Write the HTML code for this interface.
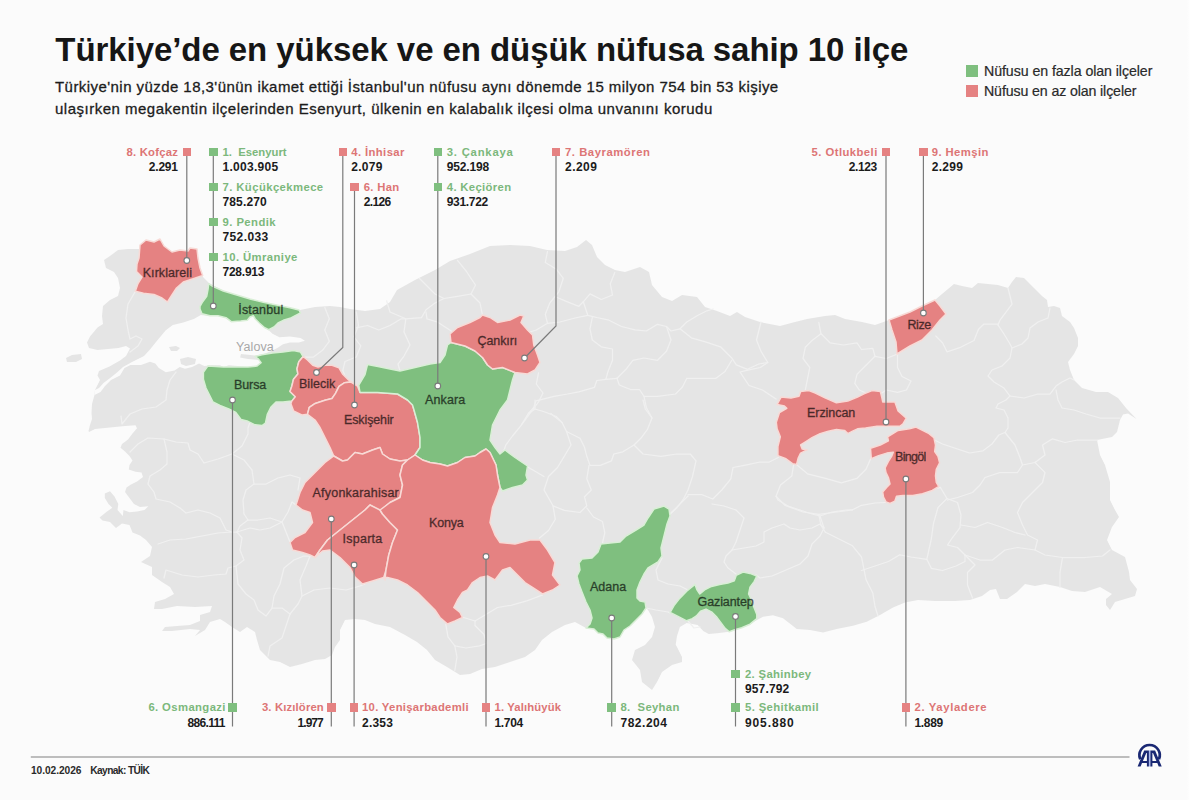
<!DOCTYPE html>
<html lang="tr"><head><meta charset="utf-8"><title>Türkiye'de en yüksek ve en düşük nüfusa sahip 10 ilçe</title>
<style>
html,body{margin:0;padding:0}
body{width:1200px;height:800px;overflow:hidden;background:#fff;font-family:"Liberation Sans",sans-serif;position:relative}
#bg{position:absolute;left:0;top:0;width:1191px;height:800px;background:linear-gradient(90deg,#fbfbfb 0,#fbfbfb 1187px,#fff 1190.5px)}
.t{position:absolute;white-space:nowrap;line-height:1}
.sq{position:absolute;width:8.6px;height:8.6px}
svg{position:absolute;left:0;top:0}
</style></head><body><div id="bg"></div>

<svg width="1200" height="800" viewBox="0 0 1200 800">
<polygon points="104,260 110,256 118,250 128,249 140,249 140,245 146,240 154,242 160,239 164,246 172,252 180,250 188,251 190,248 197,249 198,258 200,270 203,277 209,283 220,289 234,295 250,299 270,304 286,308 300,310 315,307 330,306 340,307 350,309 365,311 380,309 390,302 397,290 415,280 435,270 450,261 470,254 490,246 510,245 530,246 547,250 565,251 577,247 586,240 592,245 597,257 605,265 615,270 625,272 640,267 649,272 652,285 662,297 672,301 682,295 697,297 705,307 717,311 730,316 737,312 745,317 760,322 780,326 795,322 807,319 825,316 835,315 845,319 862,322 875,325 889,320 910,312 922,306 935,300 942,294 954,284 962,286 972,288 978,283 988,284 998,285 1008,288 1012,282 1016,277 1024,278 1028,282 1034,288 1042,296 1047,300 1048,307 1054,306 1060,308 1062,316 1070,322 1074,328 1078,338 1078,346 1074,354 1068,362 1070,370 1074,380 1082,388 1096,392 1108,392 1118,398 1126,408 1136.5,419 1128,413.5 1123,414.5 1120,420 1117,432 1112,437 1097,440 1100,455 1105,465 1110,482 1110,500 1115,510 1119,517 1112,527 1107,540 1112,550 1125,557 1129,572 1130,580 1137,589 1135,596 1125,599 1115,602 1110,610 1106,605 1106,599 1112,594 1100,587 1085,592 1072,591 1060,587 1045,584 1035,586 1025,584 1017,592 1007,599 1000,599 996,589 990,590 982,596 970,600 955,601 935,601 918,600 905,602.5 893,607.5 880,615 866.7,621.7 853,625.8 836.7,629 823,632.5 810,630 796.7,629 791.7,625 783,618.3 773,615.3 763,616.7 757,620 750,624.2 741.7,627.7 734.8,629.7 729.3,631.8 717,633.2 708.7,633.9 703.2,631.1 697.7,624.9 686.7,622.9 679.9,627 677,636 675.7,644.8 677,647 682,657 682,662 672,665 662,672 657,682 652,690 642,682 640,670 632,660 635,650 645,645 652,637 655,627 652,617 648,610 646,608 642,614 636,620 630,626 624,630 620,637 614,639 607,638 603,634 598,633 594,629 586,628 575,622 565,625 552,632 542,640 535,650 525,657 510,662 495,667 482,669 470,674 460,675 447,667 435,660 427,650 417,642 405,635 390,627 375,624 365,620 355,619 345,620 340,630 340,640 335,647 332,655 325,659 315,660 302,664 290,667 280,662 270,660 260,650 257,640 255,632 247,627 240,632 232,627 225,622 220,619 210,622 205,630 195,636 200,630 190,629 172,631 162,631 165,627 177,626 190,625 200,621 200,615 210,612 212,606 195,607 177,606 162,609 154,609 155,602 165,599 174,594 170,587 162,582 152,575 152,567 141,562 150,556 152,547 146,540 140,535.5 132.5,532.5 129.5,525 122,523.5 116,528 110,522 102.5,520.5 99.5,517.5 107,511.5 112.3,507.8 108.5,504 104.8,498 104.8,493.5 110,491.3 114.5,496.5 118.3,504 117.5,510 122.8,516 123.5,510 129.5,512.3 137,511.5 144.5,510 148.3,506.3 140,507 134,504 129.5,498 125,492 126.5,487.5 131,484.5 137,481.5 143,477 141.5,472.5 135.5,471.8 128.8,469.5 129.5,465 132.5,460.5 129.5,456 125,451.5 120.5,447.8 122,444 128,439.5 132.5,433.5 137,428.3 135.5,425.3 125,426 110,427.5 95,429 89,432 88.5,431 90,425 92,419 91.5,413 92,404 94.5,395 95,390 97,386 100,380 97.5,375.5 99,371 109.5,366.5 120,360.5 126,356 130,348.5 126,346 118.5,348 108,349 97.5,350 89,348 87,342.5 90,336.5 97.5,327.5 103,324 102,316 103,306 110,300 118,296 120,288 118,278 114,272 106,268" fill="#e5e5e5"/>
<polygon points="95,390 99,388 103.5,383 109.5,378.5 117,372.5 123,367 132,362 144,356 150,349.5 157,340.8 165.8,330.3 172.8,325 183.3,322.4 193.8,318.9 200.8,315 209.5,316 218,316 226,318 231.3,322 240.7,321.3 247.3,320.6 250,317.3 253.3,316 255.3,319.3 259.3,323.3 264.7,328 268.7,330.2 272.5,333.8 279.5,337.3 290,336.4 300.5,338.1 304.9,340.8 298.8,342.5 290,342.5 283,344.3 277.8,347.8 272.5,350.4 263.8,353.9 255,355.6 241,353.9 240.1,357.4 248,359.1 258.5,360 261.1,362.6 256.8,366.1 248,367 237.5,366.1 228.8,365.3 223.5,367 220,365.3 211.3,365.3 204.3,366.1 199,363.5 192,367 185,368.8 179.8,367 174.5,370.5 165.8,372.3 158.8,367.9 155.3,363.5 150,361.8 141,365 130.5,365 124.5,368 120,375.5 111,380 105,386 100.5,392 94.5,395" fill="#fbfbfb"/>
<polygon points="66,358 72,355 81,354 82,359 76,362 67,362" fill="#e5e5e5"/>
<polygon points="169,347 176,346 180,348 177,351 171,351" fill="#e5e5e5"/>
<polygon points="180,359 188,357 196,359 195,364 186,366 181,364" fill="#e5e5e5"/>
<g fill="none" stroke="#f0f0f0" stroke-width="1.25" stroke-linejoin="round" stroke-linecap="round">
<polyline points="135,292 128,304 126,318 128,330 130,339 136,336 142,339 138,346 130,352"/>
<polyline points="121,416 122,424 130,414 142,409 156,407 166,400 167,390 170,380 176,372"/>
<polyline points="130,452 138,444 148,438 164,439 176,442 188,443 190,450 198,454 204,463 218,459 232,454 242,446 248,434 248,428 250,422"/>
<polyline points="164,439 167,452 167,464 160,470 150,476 148,484 154,492 156,499 170,502 180,508 186,513 198,510 210,513 220,518 226,530 232,532"/>
<polyline points="232,454 244,460 252,470 254,484 246,490 243,500 244,514 248,520 240,526 237,532"/>
<polyline points="254,484 266,484 278,478 290,475 300,478 298,490"/>
<polyline points="248,520 258,520 270,518 282,522 288,512 292,502 296,505"/>
<polyline points="158,544 170,540 186,539 202,536 218,533 232,532 237,532 242,538 240,550 244,560 236,566 228,568 226,574 214,575 198,577 182,575 166,570 164,578"/>
<polyline points="237,532 250,528 260,530 270,528 282,522 290,542"/>
<polyline points="236,566 238,584 246,594 254,600 258,610 266,616 272,608 274,596 280,584 284,568 294,560 304,556 310,556"/>
<polyline points="272,608 282,608 290,614 286,626 282,638 270,646 268,656"/>
<polyline points="290,614 298,604 302,596 314,590 330,588 346,590 360,586 365,584"/>
<polyline points="310,556 306,566 300,580 302,596"/>
<polyline points="445.8,624.4 448,636.8 454.8,645.8 457,657 454.8,670.5"/>
<polyline points="454.8,645.8 466,648 479.5,645.8 486.3,643.5 484,634.5 475,625.5 475,621 486.3,614.3 497.5,607.5 511,605.3 526.8,600.8 542.5,595"/>
<polyline points="462,617 475,621"/>
<polyline points="324.8,307.5 329.3,318.8 324.8,330 329.3,341.3 322.5,350.3 313.5,357 305,357"/>
<polyline points="356.3,312 358.5,325.5 354,336.8 360.8,345.8 356.3,357 345,361.5 342.8,370.5 345,376"/>
<polyline points="356.3,327.8 367.5,325.5 378.8,330 390,325.5 401.3,318.8 405.8,318.8"/>
<polyline points="386.6,300.8 390,312 405.8,318.8 421.5,317.6 426,309.8 435,303 444,298.5 457.5,296.3 471,294 475.5,285 471,278.3 466.5,271.5 457.5,260.3"/>
<polyline points="419.3,278.3 428.3,287.3 435,294 444,298.5"/>
<polyline points="426,312 427,318.8 437.3,322 446.3,327.8 453,332.3"/>
<polyline points="405.8,318.8 404,332 410,345 404,356 398,364 400,371"/>
<polyline points="471,294 480,303 482.3,314.3"/>
<polyline points="547.5,251.3 545.3,262.5 556.5,269.3 563.3,278.3 558.8,291.8 549.8,303 545.3,314.3 547.5,323.3 536.3,330 530,332"/>
<polyline points="538.5,372.8 536.3,384 543,393 538.5,402 531.8,411 525,420 521.5,424.8"/>
<polyline points="614.8,272.5 610.3,283.8 612.5,295 601.3,299.5 590,293.9 583.3,301.8 578.8,306.3 567.5,301.8 556,297"/>
<polyline points="583.3,301.8 587.8,315.3 596.8,317.5 608,319.8 621.5,326.5 635,329.9 646.3,331 657.5,324.3 666.5,326.5 671,331 680,328.8 686.8,322 698,315.3 707,310.8 713,309"/>
<polyline points="592.3,317.5 590,328.8 592.3,340 601.3,346.8 612.5,349 612.5,360.3 608,371.5 605.8,379.4"/>
<polyline points="547.5,323.3 560,322 575,318 587.8,315.3"/>
<polyline points="666.5,326.5 671,340 666.5,351.3 657.5,360.3 644,358 632.8,360.3 626,369.3 617,378.3 619.3,385 630.5,389.5 639.5,389.5 644,396.3"/>
<polyline points="617,378.3 605.8,379.4 596.8,380.5 594.5,387.3 578.8,391.8 567.5,394 554,396.3 536,400.8 533.8,407.5 528.3,413.5"/>
<polyline points="680,328.8 691.3,337.8 707,342.3 720.5,346.8 731.8,358 736.3,364.8 747.5,369.3 758.8,364 767.8,362.5"/>
<polyline points="731.8,360.3 725,371.5 716,378.3 702.5,378.3 686.8,378.3 682.3,387.3 675.5,394 657.5,396.3 644,396.3 646.3,407.5 652,418"/>
<polyline points="761,322 756.5,340 761,351.3 767.8,362.5 760.3,367.5 749,369.8 740,372 749,385.5 762.5,390 776,399"/>
<polyline points="535,409 545,412 556.3,416.5 562,422.5"/>
<polyline points="535,400 535,409 528.3,413.5 521.5,424.8 512.5,436 505.8,445 503.5,451.8"/>
<polyline points="550.8,413.5 562,422.5 566.5,431.5 580,438.3 584.5,447.3 586.8,456.3 590,465.3"/>
<polyline points="643,400 645.3,409 652,418 647.5,429.3 640.8,438.3 634,445 622.8,451.8 613.8,454 611.5,460.8 600.3,465.3 590,465.3"/>
<polyline points="566.5,431.5 571,445 564.3,456.3 557.5,467.5 548.5,476.5 544,490 553,505.8 564.3,510.3 580,512.5 586.8,505.8 584.5,496.8 591.3,490 586.8,478.8 589,465.3"/>
<polyline points="526,466 544,476.5"/>
<polyline points="553,505.8 555.3,519.3 548.5,530.5 539.5,538"/>
<polyline points="586.8,508 593.5,517 602.5,521.5 604.8,532.8 602.5,543"/>
<polyline points="634,445 643,454 661,456.3 676.8,454 690.3,454 696,460.8 692.5,476.5 688,490 683.5,499 676.8,508 670,514"/>
<polyline points="688,494.5 701.5,494.5 712.8,499 721.8,490 730.8,478.8 733,467.5 744.3,465.3 760,462 769.3,462 778.3,457.5"/>
<polyline points="712,504 724,506 736,510 744,518 740,530 736,542 732,550 726,556 724,562 728,568 736,574"/>
<polyline points="670,514 676,508 684,500 688,496"/>
<polyline points="662,558 656,570 658,580 668,584 680,586 688,590"/>
<polyline points="732,550 744,548 756,546 764,542 764,532 772,528 784,524 790,528 800,530 812,528 820,524 824,528 820,536 812,544 808,556 800,564 786,570 772,576 760,578 756,575"/>
<polyline points="776,496.3 778,500 788,506 800,510 812,514 820,516 824,528"/>
<polyline points="820,516 832,512 846,510 852.5,509.8"/>
<polyline points="646,608 656,610 668,612 670,613"/>
<polyline points="688,621 694,628 700,627"/>
<polyline points="818.8,322.5 821,333.8 812,340.5 805.3,347.3 803,358.5 809.8,367.5 807.5,378.8 805.3,390"/>
<polyline points="821,333.8 830,342.8 843.5,345 857,342.8 861.5,349.5 872.8,348.4 875,356.3 866,365.3 857,374.3 854.8,383.3 859.3,390 866,393"/>
<polyline points="875,356.3 886.3,358.5 897.5,354 897.5,367.5 902,376.5 911,381 906.5,390 897.5,392.3 886.3,390 881.8,393"/>
<polyline points="935.8,336 942.5,342.8 947,351.8 960.5,347.3 974,340.5 978.5,329.3 984,324 998,324"/>
<polyline points="897.5,354 905,349"/>
<polyline points="933.5,439.5 942.5,444 956,448.5 969.5,453 983,450.8 992,444 998.8,435 1005,432.5"/>
<polyline points="794,462.5 807.5,473.8 825.5,478.3 841.3,482.8 857,478.3 866,469.3 871,458"/>
<polyline points="794,462.5 791.8,476 780.5,485 776,496.3 785,505.3 803,512 818.8,514.3 821,525.5 825.5,532.3"/>
<polyline points="818.8,514.3 836.8,512 852.5,509.8 861.5,505.3 875,503 886,502.5"/>
<polyline points="825.5,532.3 839,539 852.5,545.8 861.5,557 863.8,568.3 866,579.5 872.8,593 875,606.5 878,616"/>
<polyline points="861.5,570.5 875,566 888.5,561.5 899.8,554.8 911,557 926.8,559.3 931.3,568.3 942.5,570.5 956,566 965,561.5 965,555"/>
<polyline points="935,489 940.3,487.3 947,498.5 938,507.5 933.5,523.3 931.3,539 926.8,559.3"/>
<polyline points="1008,288 1010,296 1012,304 1006,312 1000,320 998,325"/>
<polyline points="998,325 1004,334 1010,344 1012,348 1022,344 1028,338 1030,328 1038,322 1048,318 1050,308"/>
<polyline points="1012,348 1010,358 1002,366 992,370 988,376 994,382 1004,388 1010,396 1006,400 998,404 996,408 1004,410 1008,418 1008,428 1005,432.5"/>
<polyline points="1010,396 1024,398 1038,394 1050,394 1056,386 1062,382 1070,378 1074,380"/>
<polyline points="1056,390 1058,400 1062,408 1074,410 1086,414 1100,418 1114,418 1120,418"/>
<polyline points="1005,432.5 1015,445 1020,457.5 1022.5,465 1035,462.5 1045,455 1042.5,445 1052.5,438.8 1065,442.5 1077.5,440 1097.5,440"/>
<polyline points="1035,462.5 1045,472.5 1042.5,482.5 1032.5,492.5 1022.5,502.5 1017.5,512.5 1022.5,525 1027.5,535 1037.5,540 1035,550"/>
<polyline points="1022.5,465 1017.5,472.5 1000,472.5 985,477.5 980,485 972.5,492.5 957.5,497.5 947.5,500"/>
<polyline points="947,498.5 957.5,502.5 961,515 960,527.5 952.5,537.5 947.5,545 957.5,547.5 965,555"/>
<polyline points="961,525 975,527.5 987.5,522.5 1002.5,527.5 1015,532.5 1025,535"/>
<polyline points="965,555 980,560 992.5,560 1005,550 1017.5,547.5 1035,550 1045,555 1062.5,557.5 1085,557.5 1102.5,556 1110,550"/>
<polyline points="1062.5,557.5 1060,572.5 1060,587.5"/>
<polyline points="965,555 975,565 967.5,572.5 967.5,585 972.5,598"/>
</g>
<g stroke-width="1.5" stroke-linejoin="round">
<polygon points="140,245 146,240 154,242 160,239 164,246 172,252 180,250 188,251 190,248 197,249 198,258 200,268 202.7,275.5 194,278.5 183.3,282 176.5,288 171.3,296 167.5,302 162,298 154,294.5 143.5,293.3 135.3,291.3 138,283.5 142,277 136.5,271.5 137,264 139,258" fill="#e58282" stroke="#f8dad6"/>
<polygon points="208.7,283.7 212.7,286.3 223.3,291 236.7,295 250,299 263.3,302.3 276.7,305 290,307.7 299,310 300.5,313 290,318.3 283.3,320.3 278,323 274,327 268.7,329.7 264.7,327.7 259.3,323 255.3,319 253.3,315.7 250,317 247.3,320.3 240.7,321 231.3,321.7 226,317.7 218,315.7 210,315.7 202,313.7 200,309 200,306.3 202.7,301.7 206.7,296.3 208,289.7" fill="#7fbf7f" stroke="#d9efd6"/>
<polygon points="207.8,366.1 223.5,367 237.5,367 248,367 256.8,366.1 261.1,362.6 258.5,359.1 255,356.5 262,354.8 272.5,353 283,352.1 293.5,350.4 300.5,352.1 303.1,356.5 298.8,361.8 297,368.8 297.9,374 293.5,379.3 291.8,386.3 290,391.5 295.3,396.8 291.8,401.1 283,402 276,402 270.8,407.3 267.3,414.3 265.5,423 262,425.6 255,424.8 248,421.3 241,419.5 235.8,412.5 228.8,409 220,405.5 213,402 209.5,395 206,388 203.4,379.3 203.4,372.3" fill="#7fbf7f" stroke="#d9efd6"/>
<polygon points="303.1,356.5 307.5,360 312.8,365.3 318,367 325,365.3 332,365.3 339,367.9 342.5,374 347.8,379.3 351.3,381.9 344.3,382.8 339,386.3 335.5,393.3 332,398.5 325,400.3 314.5,403.8 309.3,407.3 307.5,414.3 302.3,415.1 293.5,410.8 290.9,403.8 291.8,401.1 295.3,396.8 290,391.5 291.8,386.3 293.5,379.3 297.9,374 297,368.8 298.8,361.8" fill="#e58282" stroke="#f8dad6"/>
<polygon points="351,382 357.5,386 360,392.5 377.5,392.5 397.5,394 407.5,400 412.5,405 414,410 417.5,422.5 420,437.5 420,447.5 415,455 407.5,460 400,461 390,459 382.5,454 380,447.5 372.5,450 362.5,454 355,452.5 347.5,460 342.5,461 333.75,456 330,447.5 325,437.5 320,427.5 315,420 307.5,414.3 309.3,407.3 314.5,403.8 325,400.3 332,398.5 335.5,393.3 339,386.3 344.3,382.8" fill="#e58282" stroke="#f8dad6"/>
<polygon points="358.75,385 365,374.5 367.5,364.5 378,366.5 390,369 400,371 415,367.5 430,364 440,362.5 445,355 447.5,345 451,342.5 465,346 475,351 482.5,357.5 487.5,365 492.5,369 502.5,367.5 515,372.5 512.5,380 510,390 507.5,400 500,410 492.5,425 490,440 495,447.5 500,454 505,450 515,457.5 527.5,466 526,475 527.5,480 522.5,485 512.5,487.5 502.5,491 500,487.5 497.5,475 496,465 490,452.5 486,449 480,452.5 475,456 465,457.5 457.5,462.5 447.5,466 440,464 430,462.5 422.5,460 415,455 420,447.5 420,437.5 417.5,422.5 414,410 412.5,405 407.5,400 397.5,394 377.5,392.5 360,392.5" fill="#7fbf7f" stroke="#d9efd6"/>
<polygon points="451,342.5 450,334 457.5,327.5 470,322.5 480,317.5 482.5,315 490,317.5 497.5,322.5 510,320 520,315 523.75,316 521,322.5 527.5,330 532.5,335 533.75,345 537.5,355 540,362.5 535,370 527.5,374 515,372.5 502.5,367.5 492.5,369 487.5,365 482.5,357.5 475,351 465,346" fill="#e58282" stroke="#f8dad6"/>
<polygon points="333.75,456 325,462.5 315,472.5 305,482.5 300,492.5 296,505 302.5,510 310,512.5 312.5,522.5 305,532.5 295,537.5 290,542.5 292.5,550 302.5,552.5 310,555 315,557.5 320,550 327.5,540 340,530 352.5,520 365,510 370,505 380,511 390,502.5 400,497.5 402.5,485 400,475 402.5,465 407.5,460 400,461 390,459 382.5,454 380,447.5 372.5,450 362.5,454 355,452.5 347.5,460 342.5,461" fill="#e58282" stroke="#f8dad6"/>
<polygon points="370,505 365,510 352.5,520 340,530 327.5,540 320,550 315,557.5 322.5,551 330,550 340,557.5 350,567.5 355,577 362.5,584 372.5,581 383.75,577.5 386,570 388.75,555 392.5,542.5 397.5,530 390,522.5 382.5,514 380,510" fill="#e58282" stroke="#f8dad6"/>
<polygon points="415,455 422.5,460 430,462.5 440,464 447.5,466 457.5,462.5 465,457.5 475,456 480,452.5 486,449 490,452.5 496,465 497.5,475 500,487.5 497.5,495 492.5,507.5 490,522.5 495,535 500,542.5 515,544 530,540 540,540 547.5,550 555,562.5 552.5,575 560,585 552.5,590 542.5,594 532.5,587.5 525,582.5 517.5,575 510,567.5 502.5,570 495,580 487.5,576 480,577.5 472.5,582.5 467.5,590 462.5,592.5 457.5,600 453.75,607.5 460,612.5 462.5,617.5 455,621 447.5,624 440,617.5 435,610 427.5,602.5 417.5,592.5 407.5,585 397.5,580 387.5,577.5 383.75,577.5 385,580 386,570 388.75,555 392.5,542.5 397.5,530 390,522.5 382.5,514 380,510 390,502.5 400,497.5 402.5,485 400,475 402.5,465 407.5,460" fill="#e58282" stroke="#f8dad6"/>
<polygon points="777.1,404.4 781.1,397.1 790.9,397.9 799,396.3 800.6,391.4 808.8,390.6 815.3,393 825,397.9 836.4,402.8 847.8,401.1 857.5,397.1 864,393.8 872.1,390.6 880.3,391.4 881.9,397.9 882.7,401.9 894.9,401.9 898.1,410.9 906.3,418.2 903,423.9 899.8,426.3 888.4,426.3 877,426.3 865.6,427.9 857.5,428.8 852.6,431.2 847.8,433.6 844.5,430.4 836.4,429.6 828.3,431.2 820.1,433.6 812,437.7 805.5,441.8 800.6,445 802.3,449.1 807.1,449.9 800.6,453.1 798.2,458 796.6,464.5 792.5,463.7 786,458.8 777.9,455.6 777.9,446.6 780.3,436.9 777.1,428.8 776.3,422.3 779.5,412.5 786.8,408.4 784.4,406" fill="#e58282" stroke="#f8dad6"/>
<polygon points="870.5,448.3 880.3,445 888.4,440.9 887.6,436.9 898.1,430.4 909.5,428.8 916,427.1 922.5,430.4 929,433.6 933.9,437.7 935.5,445 934.7,451.5 938,456.4 939.6,462.9 936.3,469.4 935.5,475.9 936.3,482.4 938.8,486.5 932.3,490.5 922.5,493.8 912.8,495.4 903,495.4 896.5,496.2 894.9,501.1 890,503.5 886,501.9 883.5,497 882.7,492.1 886.8,487.3 890,484 888.4,477.5 886,472.6 885.1,467.8 888.4,461.3 891.6,456.4 893.3,452.3 886.8,453.1 878.6,455.6 871.3,458.8" fill="#e58282" stroke="#f8dad6"/>
<polygon points="889,320 910,312 922,306 935,300 940,306 946,314 940,320 932,330 922,340 910,346 897,354 896,342 892,330" fill="#e58282" stroke="#f8dad6"/>
<polygon points="654,509 664,506 669,509 670,516 667,524 664,536 661,548 662,556 658,562 648,568 644,574 640,582 637,590 637,598 640,601 645,602 646,608 642,614 636,620 630,626 624,630 620,637 614,639 607,638 603,634 598,633 594,629 586,628 590,624 592,618 590,610 586,602 582,592 579,584 577,576 580,570 579,563 582,559 592,558 598,552 601,544 610,543 620,542 626,536 636,530 644,525 648,518" fill="#7fbf7f" stroke="#d9efd6"/>
<polygon points="670.2,612.5 674.4,605 679.9,598.1 686.7,591.2 695,584.4 697,589.9 699.8,594 704.6,589.9 711.5,586.4 719.7,584.4 728,583 734.2,580.9 736.2,575.4 743.1,572 750,573.4 756.8,576.1 754.1,581.6 750,587.1 748.6,594 751.3,599.5 754.1,607.7 756.8,614.6 756.8,618.7 750,624.2 741.7,627.7 734.8,629.7 729.3,631.8 725.2,628.4 721.1,622.9 717,617.4 711.5,611.9 706,609.1 700.5,611.2 696.4,616 692.2,618.7 686.7,620.8 678.5,616.7" fill="#7fbf7f" stroke="#d9efd6"/>
</g>
<g fill="none" stroke="#7a7a7a" stroke-width="1.2">
<polyline points="186.8,152 186.8,260.5"/>
<polyline points="213.3,152 213.3,306"/>
<polyline points="342.8,152 342.8,347.5 316.5,372.5"/>
<polyline points="354.5,187 354.5,405"/>
<polyline points="437.8,152 437.8,386"/>
<polyline points="556,152 556,326 524.5,358"/>
<polyline points="886,152 886,422"/>
<polyline points="923.4,152 923.4,313"/>
<polyline points="232.5,726.5 232.5,400"/>
<polyline points="331.3,726.5 331.3,519"/>
<polyline points="354.1,726.5 354.1,565"/>
<polyline points="486,726.5 486,556.5"/>
<polyline points="611.7,726.5 611.7,618"/>
<polyline points="735.5,726.5 735.5,616.5"/>
<polyline points="905.9,726.5 905.9,479"/>
</g>
<g fill="#fff" stroke="#7a7a7a" stroke-width="1.1">
<circle cx="186.8" cy="260.5" r="2.85"/>
<circle cx="213.3" cy="306" r="2.85"/>
<circle cx="316.5" cy="372.5" r="2.85"/>
<circle cx="354.5" cy="405" r="2.85"/>
<circle cx="437.8" cy="386" r="2.85"/>
<circle cx="524.5" cy="358" r="2.85"/>
<circle cx="886" cy="422" r="2.85"/>
<circle cx="923.4" cy="313" r="2.85"/>
<circle cx="232.5" cy="400" r="2.85"/>
<circle cx="331.3" cy="519" r="2.85"/>
<circle cx="354.1" cy="565" r="2.85"/>
<circle cx="486" cy="556.5" r="2.85"/>
<circle cx="611.7" cy="618" r="2.85"/>
<circle cx="735.5" cy="616.5" r="2.85"/>
<circle cx="905.9" cy="479" r="2.85"/>
</g>
<line x1="30.8" y1="757" x2="1129.5" y2="757" stroke="#a8a8a8" stroke-width="1.5"/>
<g fill="#1a2873" fill-rule="evenodd">
<rect x="1148.9" y="750.4" width="1.5" height="16.1" fill="#a9b7ee"/>
<path d="M1137.6 766.5L1144.2 750.4L1148.9 750.4L1148.9 766.5L1146.9 766.5L1146.9 763.1L1142 763.1L1140.6 766.5ZM1142.9 761.1L1146.9 761.1L1146.9 752.9L1146.3 752.9Z"/>
<path d="M1161.7 766.5L1155.1 750.4L1150.4 750.4L1150.4 766.5L1152.4 766.5L1152.4 763.1L1157.3 763.1L1158.7 766.5ZM1156.4 761.1L1152.4 761.1L1152.4 752.9L1153 752.9Z"/>
<path d="M1140.26 759.3A10.2 10.2 0 1 1 1158.94 759.3" fill="none" stroke="#1a2873" stroke-width="2.7"/>
</g>
</svg>
<div class="sq" style="left:966px;top:65px;width:11.5px;height:11.5px;background:#7fbf7f"></div>
<div class="sq" style="left:966px;top:85.3px;width:11.5px;height:11.5px;background:#e58282"></div>
<div class="sq" style="left:182.5px;top:147.5px;background:#e58282"></div>
<div class="sq" style="left:209px;top:147.5px;background:#7fbf7f"></div>
<div class="sq" style="left:209px;top:182.8px;background:#7fbf7f"></div>
<div class="sq" style="left:209px;top:217.5px;background:#7fbf7f"></div>
<div class="sq" style="left:209px;top:252.5px;background:#7fbf7f"></div>
<div class="sq" style="left:338.6px;top:147.5px;background:#e58282"></div>
<div class="sq" style="left:350.4px;top:182.8px;background:#e58282"></div>
<div class="sq" style="left:433.6px;top:147.5px;background:#7fbf7f"></div>
<div class="sq" style="left:433.6px;top:182.8px;background:#7fbf7f"></div>
<div class="sq" style="left:551.7px;top:147.5px;background:#e58282"></div>
<div class="sq" style="left:881.6px;top:147.5px;background:#e58282"></div>
<div class="sq" style="left:919.2px;top:147.5px;background:#e58282"></div>
<div class="sq" style="left:228.1px;top:703.3px;background:#7fbf7f"></div>
<div class="sq" style="left:327px;top:703.3px;background:#e58282"></div>
<div class="sq" style="left:349.9px;top:703.3px;background:#e58282"></div>
<div class="sq" style="left:481.7px;top:703.3px;background:#e58282"></div>
<div class="sq" style="left:607.4px;top:703.3px;background:#7fbf7f"></div>
<div class="sq" style="left:731.2px;top:669.5px;background:#7fbf7f"></div>
<div class="sq" style="left:731.2px;top:703.3px;background:#7fbf7f"></div>
<div class="sq" style="left:901.7px;top:703.3px;background:#e58282"></div>
<div class="t" id="title" style="top:32.67px;font-size:33px;color:#161616;font-weight:bold;letter-spacing:-0.068px;left:55.3px;">Türkiye’de en yüksek ve en düşük nüfusa sahip 10 ilçe</div>
<div class="t" id="sub1" style="top:79.30px;font-size:15px;color:#1c1c1c;letter-spacing:0.442px;left:55px;-webkit-text-stroke:0.3px #1c1c1c;">Türkiye'nin yüzde 18,3'ünün ikamet ettiği İstanbul'un nüfusu aynı dönemde 15 milyon 754 bin 53 kişiye</div>
<div class="t" id="sub2" style="top:100.80px;font-size:15px;color:#1c1c1c;letter-spacing:0.497px;left:55px;-webkit-text-stroke:0.3px #1c1c1c;">ulaşırken megakentin ilçelerinden Esenyurt, ülkenin en kalabalık ilçesi olma unvanını korudu</div>
<div class="t" id="leg1" style="top:63.98px;font-size:14.2px;color:#2a2a2a;letter-spacing:-0.072px;left:984px;-webkit-text-stroke:0.2px #2a2a2a;">Nüfusu en fazla olan ilçeler</div>
<div class="t" id="leg2" style="top:83.98px;font-size:14.2px;color:#2a2a2a;letter-spacing:-0.123px;left:984px;-webkit-text-stroke:0.2px #2a2a2a;">Nüfusu en az olan ilçeler</div>
<div class="t" id="n0" style="top:146.58px;font-size:11.3px;color:#dd7575;font-weight:bold;letter-spacing:0.253px;right:1021.75px;">8. Kofçaz</div>
<div class="t" id="v0" style="top:160.94px;font-size:12px;color:#1b1b1b;font-weight:bold;letter-spacing:-0.208px;right:1022.21px;">2.291</div>
<div class="t" id="n1" style="top:146.58px;font-size:11.3px;color:#7cb87c;font-weight:bold;letter-spacing:0.008px;left:222.5px;">1.&nbsp; Esenyurt</div>
<div class="t" id="v1" style="top:160.94px;font-size:12px;color:#1b1b1b;font-weight:bold;letter-spacing:0.289px;left:222.5px;">1.003.905</div>
<div class="t" id="n2" style="top:181.88px;font-size:11.3px;color:#7cb87c;font-weight:bold;letter-spacing:0.414px;left:222.5px;">7. Küçükçekmece</div>
<div class="t" id="v2" style="top:196.24px;font-size:12px;color:#1b1b1b;font-weight:bold;letter-spacing:0.135px;left:222.5px;">785.270</div>
<div class="t" id="n3" style="top:216.58px;font-size:11.3px;color:#7cb87c;font-weight:bold;letter-spacing:0.440px;left:222.5px;">9. Pendik</div>
<div class="t" id="v3" style="top:230.94px;font-size:12px;color:#1b1b1b;font-weight:bold;letter-spacing:0.385px;left:222.5px;">752.033</div>
<div class="t" id="n4" style="top:251.58px;font-size:11.3px;color:#7cb87c;font-weight:bold;letter-spacing:0.412px;left:222.5px;">10. Ümraniye</div>
<div class="t" id="v4" style="top:265.94px;font-size:12px;color:#1b1b1b;font-weight:bold;letter-spacing:-0.240px;left:222.5px;">728.913</div>
<div class="t" id="n5" style="top:146.58px;font-size:11.3px;color:#dd7575;font-weight:bold;letter-spacing:0.391px;left:351.25px;">4. İnhisar</div>
<div class="t" id="v5" style="top:160.94px;font-size:12px;color:#1b1b1b;font-weight:bold;letter-spacing:0.292px;left:351.25px;">2.079</div>
<div class="t" id="n6" style="top:181.88px;font-size:11.3px;color:#dd7575;font-weight:bold;letter-spacing:0.295px;left:363.75px;">6. Han</div>
<div class="t" id="v6" style="top:196.24px;font-size:12px;color:#1b1b1b;font-weight:bold;letter-spacing:-0.645px;left:363.75px;">2.126</div>
<div class="t" id="n7" style="top:146.58px;font-size:11.3px;color:#7cb87c;font-weight:bold;letter-spacing:0.787px;left:446.75px;">3. Çankaya</div>
<div class="t" id="v7" style="top:160.94px;font-size:12px;color:#1b1b1b;font-weight:bold;letter-spacing:-0.157px;left:446.75px;">952.198</div>
<div class="t" id="n8" style="top:181.88px;font-size:11.3px;color:#7cb87c;font-weight:bold;letter-spacing:0.347px;left:446.75px;">4. Keçiören</div>
<div class="t" id="v8" style="top:196.24px;font-size:12px;color:#1b1b1b;font-weight:bold;letter-spacing:-0.323px;left:446.75px;">931.722</div>
<div class="t" id="n9" style="top:146.58px;font-size:11.3px;color:#dd7575;font-weight:bold;letter-spacing:0.532px;left:565px;">7. Bayramören</div>
<div class="t" id="v9" style="top:160.94px;font-size:12px;color:#1b1b1b;font-weight:bold;letter-spacing:0.480px;left:565px;">2.209</div>
<div class="t" id="n10" style="top:146.58px;font-size:11.3px;color:#dd7575;font-weight:bold;letter-spacing:0.439px;right:322.26px;">5. Otlukbeli</div>
<div class="t" id="v10" style="top:160.94px;font-size:12px;color:#1b1b1b;font-weight:bold;letter-spacing:-0.383px;right:323.08px;">2.123</div>
<div class="t" id="n11" style="top:146.58px;font-size:11.3px;color:#dd7575;font-weight:bold;letter-spacing:0.419px;left:931.7px;">9. Hemşin</div>
<div class="t" id="v11" style="top:160.94px;font-size:12px;color:#1b1b1b;font-weight:bold;letter-spacing:0.292px;left:931.7px;">2.299</div>
<div class="t" id="n12" style="top:702.38px;font-size:11.3px;color:#7cb87c;font-weight:bold;letter-spacing:0.390px;right:974.11px;">6. Osmangazi</div>
<div class="t" id="v12" style="top:716.74px;font-size:12px;color:#1b1b1b;font-weight:bold;letter-spacing:-0.685px;right:975.19px;">886.111</div>
<div class="t" id="n13" style="top:702.38px;font-size:11.3px;color:#dd7575;font-weight:bold;letter-spacing:0.147px;right:876.10px;">3. Kızılören</div>
<div class="t" id="v13" style="top:716.74px;font-size:12px;color:#1b1b1b;font-weight:bold;letter-spacing:-0.958px;right:877.21px;">1.977</div>
<div class="t" id="n14" style="top:702.38px;font-size:11.3px;color:#dd7575;font-weight:bold;letter-spacing:0.300px;left:362px;">10. Yenişarbademli</div>
<div class="t" id="v14" style="top:716.74px;font-size:12px;color:#1b1b1b;font-weight:bold;letter-spacing:0.230px;left:362px;">2.353</div>
<div class="t" id="n15" style="top:702.38px;font-size:11.3px;color:#dd7575;font-weight:bold;letter-spacing:0.138px;left:494.5px;">1. Yalıhüyük</div>
<div class="t" id="v15" style="top:716.74px;font-size:12px;color:#1b1b1b;font-weight:bold;letter-spacing:-0.333px;left:494.5px;">1.704</div>
<div class="t" id="n16" style="top:702.38px;font-size:11.3px;color:#7cb87c;font-weight:bold;letter-spacing:0.332px;left:620.5px;">8.&nbsp; Seyhan</div>
<div class="t" id="v16" style="top:716.74px;font-size:12px;color:#1b1b1b;font-weight:bold;letter-spacing:0.510px;left:620.5px;">782.204</div>
<div class="t" id="n17" style="top:668.58px;font-size:11.3px;color:#7cb87c;font-weight:bold;letter-spacing:0.333px;left:745px;">2. Şahinbey</div>
<div class="t" id="v17" style="top:682.94px;font-size:12px;color:#1b1b1b;font-weight:bold;letter-spacing:0.135px;left:745px;">957.792</div>
<div class="t" id="n18" style="top:702.38px;font-size:11.3px;color:#7cb87c;font-weight:bold;letter-spacing:0.379px;left:745px;">5. Şehitkamil</div>
<div class="t" id="v18" style="top:716.74px;font-size:12px;color:#1b1b1b;font-weight:bold;letter-spacing:0.885px;left:745px;">905.880</div>
<div class="t" id="n19" style="top:702.38px;font-size:11.3px;color:#dd7575;font-weight:bold;letter-spacing:0.637px;left:914.5px;">2. Yayladere</div>
<div class="t" id="v19" style="top:716.74px;font-size:12px;color:#1b1b1b;font-weight:bold;letter-spacing:-0.333px;left:914.5px;">1.889</div>
<div class="t" id="p0" style="top:266.82px;font-size:12.5px;color:#000;letter-spacing:0.069px;left:142.7px;opacity:0.68;-webkit-text-stroke:0.3px #000;">Kırklareli</div>
<div class="t" id="p1" style="top:303.62px;font-size:12.5px;color:#000;letter-spacing:0.167px;left:238.3px;opacity:0.68;-webkit-text-stroke:0.3px #000;">İstanbul</div>
<div class="t" id="p2" style="top:341.42px;font-size:12.5px;color:#a8a8a8;letter-spacing:0.091px;left:236px;">Yalova</div>
<div class="t" id="p3" style="top:379.42px;font-size:12.5px;color:#000;letter-spacing:-0.102px;left:234px;opacity:0.68;-webkit-text-stroke:0.3px #000;">Bursa</div>
<div class="t" id="p4" style="top:378.42px;font-size:12.5px;color:#000;letter-spacing:0.021px;left:299px;opacity:0.68;-webkit-text-stroke:0.3px #000;">Bilecik</div>
<div class="t" id="p5" style="top:414.42px;font-size:12.5px;color:#000;letter-spacing:-0.121px;left:344px;opacity:0.68;-webkit-text-stroke:0.3px #000;">Eskişehir</div>
<div class="t" id="p6" style="top:393.92px;font-size:12.5px;color:#000;letter-spacing:0.128px;left:425px;opacity:0.68;-webkit-text-stroke:0.3px #000;">Ankara</div>
<div class="t" id="p7" style="top:334.92px;font-size:12.5px;color:#000;letter-spacing:-0.091px;left:477.5px;opacity:0.68;-webkit-text-stroke:0.3px #000;">Çankırı</div>
<div class="t" id="p8" style="top:486.92px;font-size:12.5px;color:#000;letter-spacing:0.221px;left:312.5px;opacity:0.68;-webkit-text-stroke:0.3px #000;">Afyonkarahisar</div>
<div class="t" id="p9" style="top:533.42px;font-size:12.5px;color:#000;letter-spacing:0.255px;left:342.5px;opacity:0.68;-webkit-text-stroke:0.3px #000;">Isparta</div>
<div class="t" id="p10" style="top:517.42px;font-size:12.5px;color:#000;letter-spacing:-0.176px;left:429px;opacity:0.68;-webkit-text-stroke:0.3px #000;">Konya</div>
<div class="t" id="p11" style="top:581.42px;font-size:12.5px;color:#000;letter-spacing:0.023px;left:590px;opacity:0.68;-webkit-text-stroke:0.3px #000;">Adana</div>
<div class="t" id="p12" style="top:596.42px;font-size:12.5px;color:#000;letter-spacing:-0.092px;left:697.5px;opacity:0.68;-webkit-text-stroke:0.3px #000;">Gaziantep</div>
<div class="t" id="p13" style="top:407.42px;font-size:12.5px;color:#000;letter-spacing:-0.056px;left:807px;opacity:0.68;-webkit-text-stroke:0.3px #000;">Erzincan</div>
<div class="t" id="p14" style="top:451.42px;font-size:12.5px;color:#000;letter-spacing:-0.700px;left:895px;opacity:0.68;-webkit-text-stroke:0.3px #000;">Bingöl</div>
<div class="t" id="p15" style="top:318.92px;font-size:12.5px;color:#000;letter-spacing:-0.422px;left:907.5px;opacity:0.68;-webkit-text-stroke:0.3px #000;">Rize</div>
<div class="t" id="f1" style="top:765.97px;font-size:10.2px;color:#2a2a2a;font-weight:bold;letter-spacing:-0.053px;left:31px;">10.02.2026</div>
<div class="t" id="f2" style="top:765.97px;font-size:10.2px;color:#2a2a2a;font-weight:bold;letter-spacing:-0.610px;left:90.3px;">Kaynak: TÜİK</div>
</body></html>
